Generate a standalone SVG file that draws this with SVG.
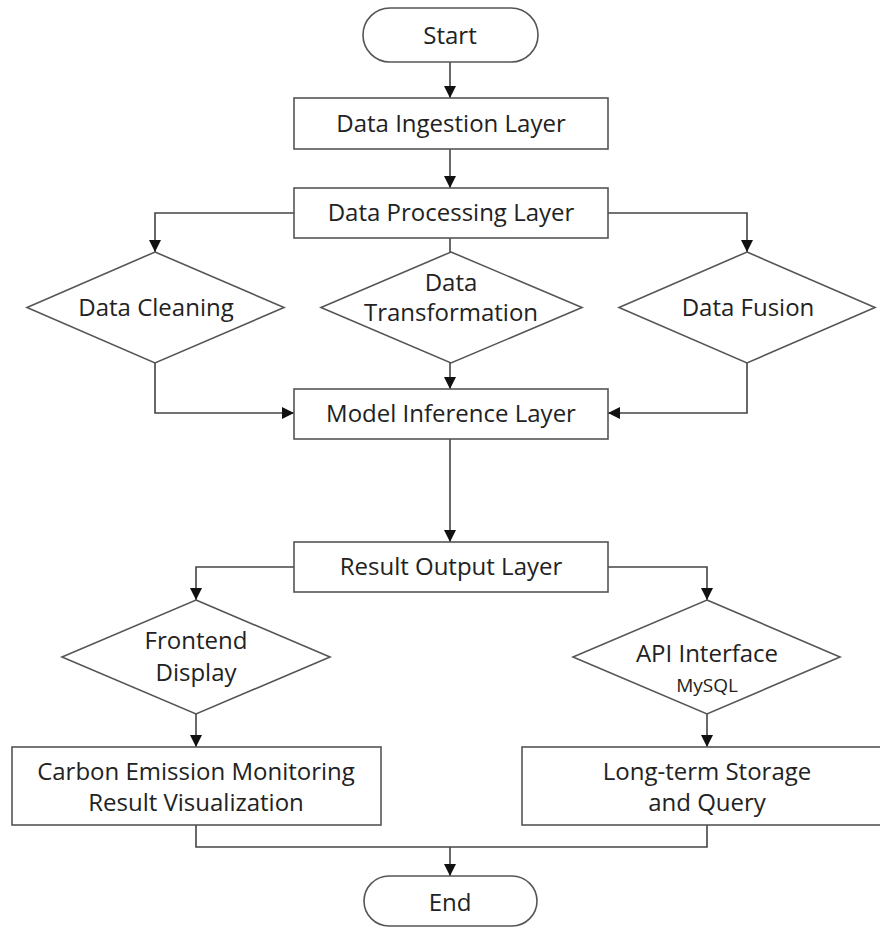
<svg xmlns="http://www.w3.org/2000/svg" width="880" height="928" viewBox="0 0 880 928">
<style>
.shape{fill:#ffffff;stroke:#555555;stroke-width:1.6}
.lbl{font-family:"Open Sans","Liberation Sans",sans-serif;font-size:24px;fill:#222222;text-anchor:middle}
.sm{font-size:19px}
.conn{fill:none;stroke:#444444;stroke-width:1.6}
</style>
<defs>
<marker id="arr" markerUnits="userSpaceOnUse" markerWidth="12" markerHeight="12" refX="12" refY="6" orient="auto">
<path d="M0,0 L12,6 L0,12 Z" fill="#111111"/>
</marker>
</defs>
<rect width="880" height="928" fill="#ffffff"/>
<g id="connectors">
<line class="conn" x1="450" y1="62" x2="450" y2="98" marker-end="url(#arr)"/>
<line class="conn" x1="450" y1="149" x2="450" y2="188" marker-end="url(#arr)"/>
<polyline class="conn" points="294,213 155,213 155,252" marker-end="url(#arr)"/>
<polyline class="conn" points="608,213 747,213 747,252" marker-end="url(#arr)"/>
<line class="conn" x1="450" y1="238" x2="450" y2="252"/>
<polyline class="conn" points="155,363 155,413 294,413" marker-end="url(#arr)"/>
<line class="conn" x1="450" y1="363" x2="450" y2="389" marker-end="url(#arr)"/>
<polyline class="conn" points="747,363 747,413 608,413" marker-end="url(#arr)"/>
<line class="conn" x1="450" y1="439" x2="450" y2="542" marker-end="url(#arr)"/>
<polyline class="conn" points="294,567 196,567 196,600" marker-end="url(#arr)"/>
<polyline class="conn" points="608,567 707,567 707,600" marker-end="url(#arr)"/>
<line class="conn" x1="196" y1="714" x2="196" y2="747" marker-end="url(#arr)"/>
<line class="conn" x1="707" y1="714" x2="707" y2="747" marker-end="url(#arr)"/>
<polyline class="conn" points="196,825 196,847 707,847 707,825"/>
<line class="conn" x1="450" y1="847" x2="450" y2="876" marker-end="url(#arr)"/>
</g>
<g id="start">
<rect class="shape" x="363" y="8" width="175" height="54" rx="27" ry="27"/>
<text class="lbl" x="450" y="44">Start</text>
</g>
<g id="ingestion">
<rect class="shape" x="294" y="98" width="314" height="51"/>
<text class="lbl" x="451" y="132">Data Ingestion Layer</text>
</g>
<g id="processing">
<rect class="shape" x="294" y="188" width="314" height="50"/>
<text class="lbl" x="451" y="221">Data Processing Layer</text>
</g>
<g id="cleaning">
<polygon class="shape" points="155,252 284,307.5 155,363 27,307.5"/>
<text class="lbl" x="156" y="316">Data Cleaning</text>
</g>
<g id="transformation">
<polygon class="shape" points="451,252 582,307.5 451,363 321,307.5"/>
<text class="lbl" x="451" y="291">Data</text>
<text class="lbl" x="451" y="321">Transformation</text>
</g>
<g id="fusion">
<polygon class="shape" points="747,252 875,307.5 747,363 619,307.5"/>
<text class="lbl" x="748" y="316">Data Fusion</text>
</g>
<g id="model">
<rect class="shape" x="294" y="389" width="314" height="50"/>
<text class="lbl" x="451" y="422">Model Inference Layer</text>
</g>
<g id="result">
<rect class="shape" x="294" y="542" width="314" height="50"/>
<text class="lbl" x="451" y="575">Result Output Layer</text>
</g>
<g id="frontend">
<polygon class="shape" points="196,600 330,657 196,714 62,657"/>
<text class="lbl" x="196" y="649">Frontend</text>
<text class="lbl" x="196" y="681">Display</text>
</g>
<g id="api">
<polygon class="shape" points="707,600 840,657 707,714 573,657"/>
<text class="lbl" x="707" y="662">API Interface</text>
<text class="lbl sm" x="707" y="692">MySQL</text>
</g>
<g id="carbon">
<rect class="shape" x="12" y="747" width="369" height="78"/>
<text class="lbl" x="196" y="780">Carbon Emission Monitoring</text>
<text class="lbl" x="196" y="811">Result Visualization</text>
</g>
<g id="storage">
<rect class="shape" x="522" y="747" width="370" height="78"/>
<text class="lbl" x="707" y="780">Long-term Storage</text>
<text class="lbl" x="707" y="811">and Query</text>
</g>
<g id="end">
<rect class="shape" x="364" y="876" width="173" height="50" rx="25" ry="25"/>
<text class="lbl" x="450" y="911">End</text>
</g>
</svg>
